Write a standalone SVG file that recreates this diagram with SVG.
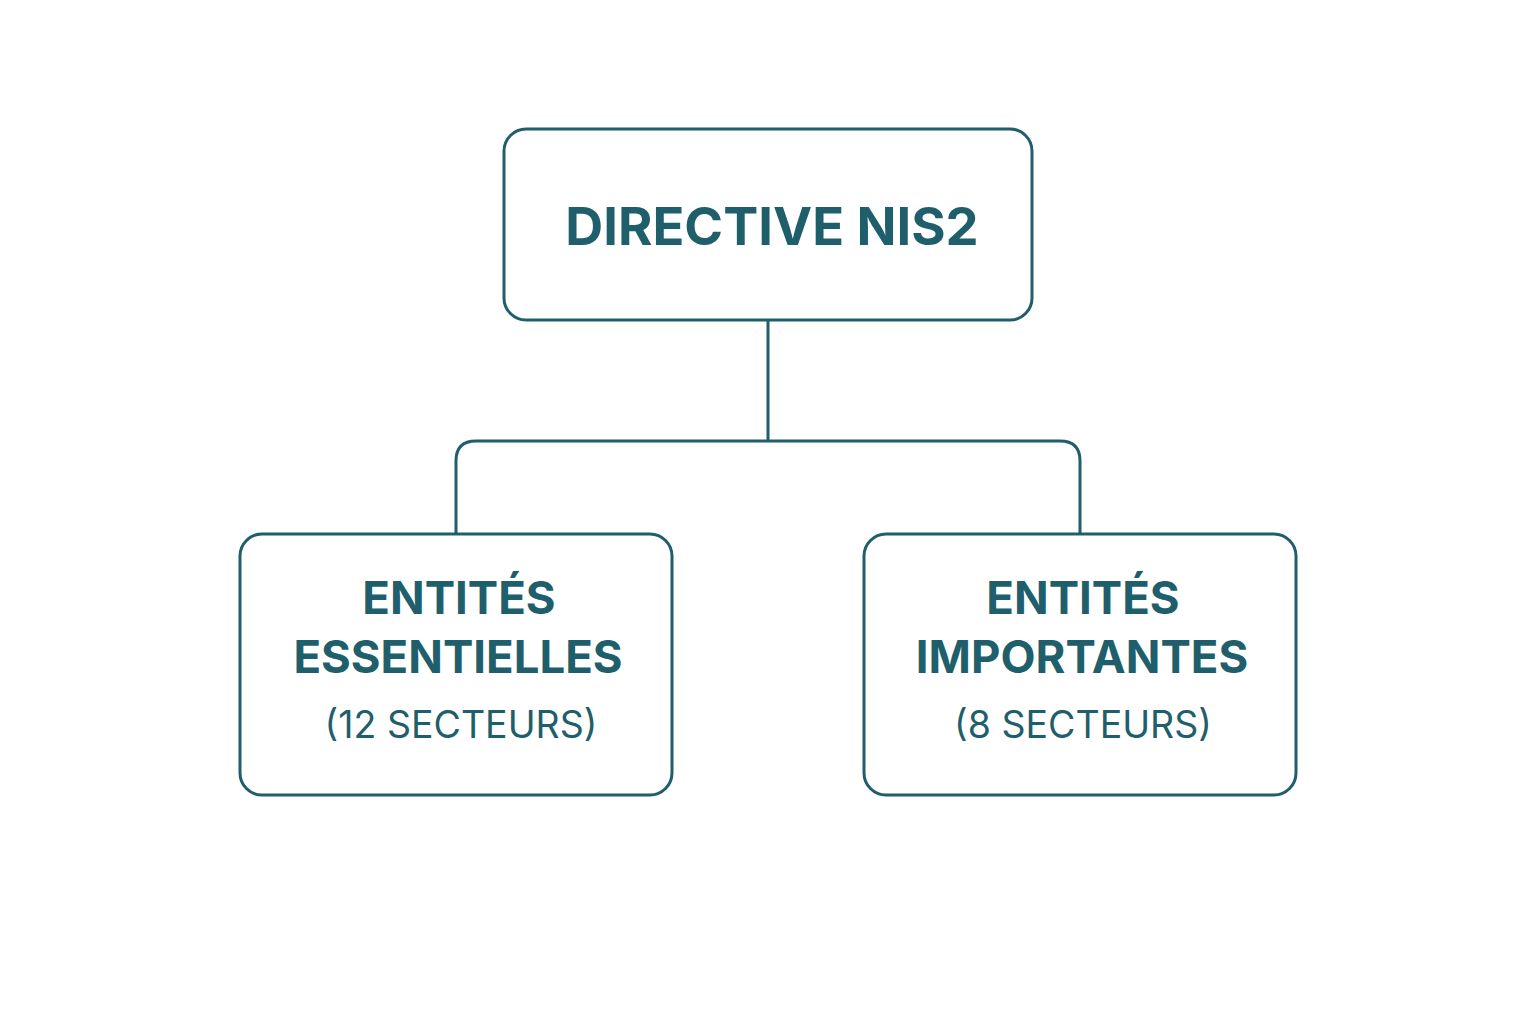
<svg xmlns="http://www.w3.org/2000/svg" width="1536" height="1024" viewBox="0 0 1536 1024">
<style>
.box{fill:#fff;stroke:#1f5f6b;stroke-width:3}
.b{font-family:Inter,"Liberation Sans",sans-serif;font-weight:700;fill:#1f5f6b;text-anchor:middle}
.n{font-family:Inter,"Liberation Sans",sans-serif;font-weight:400;fill:#1f5f6b;text-anchor:middle;font-size:37.5px}
.c{fill:none;stroke:#1f5f6b;stroke-width:3}
</style>
<rect width="1536" height="1024" fill="#fff"/>
<g id="connectors">
<path class="c" d="M768 320V441"/>
<path class="c" d="M456 534V461Q456 441 476 441H1060Q1080 441 1080 461V534"/>
</g>
<g id="top">
<rect class="box" x="504" y="129" width="528" height="191" rx="22"/>
<text class="b" x="772" y="245" font-size="52.5">DIRECTIVE NIS2</text>
</g>
<g id="left">
<rect class="box" x="240" y="534" width="432" height="261" rx="22"/>
<text class="b" x="459" y="614" font-size="45.5">ENTITÉS</text>
<text class="b" x="458" y="673" font-size="45.5">ESSENTIELLES</text>
<text class="n" x="461" y="738">(12 SECTEURS)</text>
</g>
<g id="right">
<rect class="box" x="864" y="534" width="432" height="261" rx="22"/>
<text class="b" x="1083" y="614" font-size="45.5">ENTITÉS</text>
<text class="b" x="1082" y="673" font-size="45.5">IMPORTANTES</text>
<text class="n" x="1083" y="738">(8 SECTEURS)</text>
</g>
</svg>
